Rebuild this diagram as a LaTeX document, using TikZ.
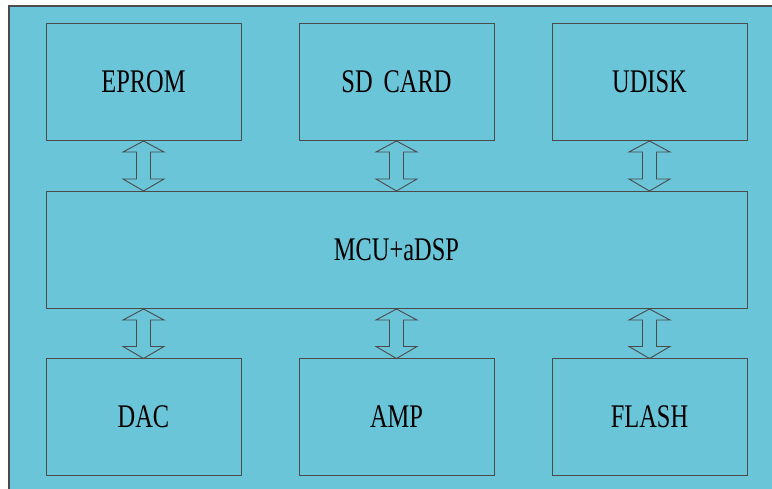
\documentclass[tikz,border=0pt]{standalone}
\usepackage{fontspec}
\setmainfont{Liberation Serif}
\usetikzlibrary{calc}
\definecolor{bgblue}{RGB}{106,197,217}
\definecolor{edge}{RGB}{75,75,75}
\newcommand{\cond}[1]{\scalebox{0.74}[1]{#1}}
\tikzset{
  blk/.style={draw=edge, line width=0.9pt, fill=bgblue, minimum width=195pt, minimum height=117pt,
    inner sep=0pt, outer sep=0pt, font=\fontsize{33}{33}\selectfont},
  wide/.style={blk, minimum width=701pt},
  dbl/.style={draw=edge, line width=0.9pt, fill=bgblue, line join=miter}
}
\newcommand{\dblarrow}[2]{%
  \draw[dbl] let \p1=(#1), \p2=(#2) in
   (\x1,\y1-1pt) -- ++(20.5pt,-11pt) -- ++(-13.5pt,0) -- ($(\x1+7pt,\y2+12pt)$) -- ++(13.5pt,0)
   -- (\x1,\y2) -- ++(-20.5pt,12pt) -- ++(13.5pt,0) -- ($(\x1-7pt,\y1-12pt)$) -- ++(-13.5pt,0) -- cycle;}
\begin{document}
\begin{tikzpicture}[x=1pt,y=-1pt]
\useasboundingbox (0,0) rectangle (772,489);
\fill[bgblue] (9,6) rectangle (772,489);
\draw[edge, line width=1.8pt] (9,489) -- (9,6) -- (772,6);
\node[blk] (eprom) at (143.5,81.5) {\cond{EPROM}};
\node[blk] (sd) at (396.5,81.5) {\cond{SD\hspace{0.45em}CARD}};
\node[blk] (udisk) at (649.5,81.5) {\cond{UDISK}};
\node[wide] (mcu) at (396.5,249.5) {\cond{MCU+aDSP}};
\node[blk] (dac) at (143.5,417) {\cond{DAC}};
\node[blk] (amp) at (396.5,417) {\cond{AMP}};
\node[blk] (flash) at (649.5,417) {\cond{FLASH}};
\dblarrow{eprom.south}{eprom.south |- mcu.north}
\dblarrow{sd.south}{sd.south |- mcu.north}
\dblarrow{udisk.south}{udisk.south |- mcu.north}
\dblarrow{dac.north |- mcu.south}{dac.north}
\dblarrow{amp.north |- mcu.south}{amp.north}
\dblarrow{flash.north |- mcu.south}{flash.north}
\end{tikzpicture}
\end{document}
